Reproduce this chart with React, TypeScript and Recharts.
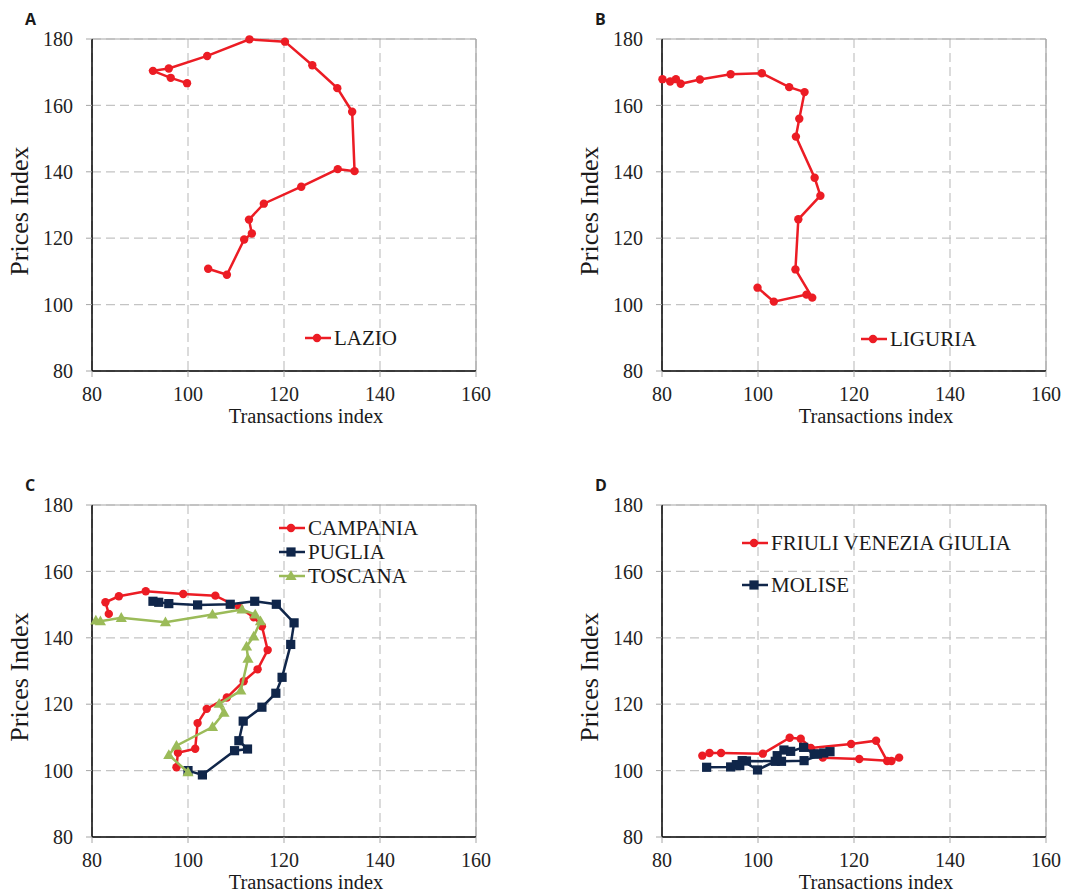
import React from 'react';
import {
  ScatterChart,
  Scatter,
  XAxis,
  YAxis,
  CartesianGrid,
  ReferenceLine,
  Legend,
  Label,
} from 'recharts';

const FONT = '"Liberation Serif", "Times New Roman", serif';

const xTicks = [80, 100, 120, 140, 160];
const yTicks = [80, 100, 120, 140, 160, 180];

// Panel A
const lazioTransactions = [104.2, 108.1, 111.7, 113.3, 112.7, 115.8, 123.6, 131.2, 134.7, 134.2, 131.1, 125.9, 120.2, 112.8, 104.0, 96.0, 92.7, 96.4, 99.8];
const lazioPrices = [110.8, 109.0, 119.6, 121.4, 125.6, 130.4, 135.5, 140.8, 140.2, 158.1, 165.2, 172.1, 179.2, 179.9, 174.9, 171.1, 170.4, 168.3, 166.7];

// Panel B
const liguriaTransactions = [99.9, 103.3, 110.1, 111.3, 107.8, 108.4, 113.0, 111.8, 107.9, 108.6, 109.7, 106.5, 100.8, 94.3, 87.9, 83.9, 82.9, 81.7, 80.1];
const liguriaPrices = [105.1, 100.9, 103.0, 102.1, 110.6, 125.7, 132.8, 138.2, 150.6, 156.0, 164.0, 165.5, 169.7, 169.4, 167.8, 166.5, 167.9, 167.2, 167.9];

// Panel C
const campaniaTransactions = [97.6, 97.9, 101.5, 102.0, 103.9, 108.1, 111.6, 114.5, 116.6, 115.4, 113.7, 110.7, 105.7, 99.0, 91.2, 85.6, 82.8, 83.5];
const campaniaPrices = [101.0, 105.4, 106.6, 114.3, 118.6, 122.0, 126.9, 130.5, 136.3, 143.5, 146.2, 149.1, 152.7, 153.2, 154.0, 152.5, 150.7, 147.2];

const pugliaTransactions = [100.0, 103.0, 109.7, 112.4, 110.6, 111.5, 115.4, 118.3, 119.6, 121.4, 122.1, 118.4, 113.9, 108.8, 102.0, 96.0, 93.9, 92.7];
const pugliaPrices = [100.0, 98.7, 106.0, 106.5, 109.0, 114.9, 119.1, 123.3, 128.1, 138.0, 144.5, 150.1, 151.0, 150.1, 149.9, 150.3, 150.7, 151.0];

const toscanaTransactions = [100.0, 96.0, 97.6, 105.1, 107.5, 106.5, 111.0, 112.5, 112.2, 113.7, 115.1, 114.0, 111.25, 105.1, 95.3, 86.1, 81.75, 80.8];
const toscanaPrices = [99.5, 104.7, 107.5, 113.1, 117.4, 120.1, 124.1, 133.7, 137.4, 140.4, 145.0, 147.0, 148.5, 147.0, 144.7, 146.0, 145.0, 145.2];

// Panel D
const friuliTransactions = [88.4, 89.9, 92.3, 101.0, 106.6, 108.9, 113.5, 121.1, 127.8, 129.4, 126.9, 124.6, 119.4, 111.0];
const friuliPrices = [104.5, 105.3, 105.3, 105.1, 109.9, 109.6, 103.9, 103.5, 102.9, 103.9, 102.9, 109.0, 108.0, 106.8];

const moliseTransactions = [89.3, 94.3, 95.5, 96.7, 99.9, 103.6, 104.0, 105.4, 106.8, 109.5, 111.7, 112.4, 113.7, 115.0, 109.6, 104.9, 97.6, 96.2];
const molisePrices = [101.0, 101.1, 101.8, 103.0, 100.2, 102.8, 104.5, 106.2, 105.8, 107.0, 105.0, 105.0, 105.3, 105.7, 103.0, 102.8, 102.9, 101.5];

const RED = '#ec1c24';
const NAVY = '#10264a';
const GREEN = '#9bbb59';

type Pt = { x: number; y: number };
type MarkerKind = 'circle' | 'square' | 'triangle';
type SeriesDef = { name: string; color: string; marker: MarkerKind; data: Pt[] };

const zip = (xs: number[], ys: number[]): Pt[] => xs.map((x, i) => ({ x, y: ys[i] }));

function markerElement(kind: MarkerKind, color: string, cx: number, cy: number) {
  if (kind === 'circle') return <circle cx={cx} cy={cy} r={4.2} fill={color} />;
  if (kind === 'square') return <rect x={cx - 4.6} y={cy - 4.6} width={9.2} height={9.2} fill={color} />;
  return (
    <polygon
      points={`${cx},${cy - 5.8} ${cx + 5.6},${cy + 4} ${cx - 5.6},${cy + 4}`}
      fill={color}
    />
  );
}

const W = 500;
const H = 446;

type PanelProps = {
  letter: string;
  left: number;
  top: number;
  series: SeriesDef[];
  legendLeft: number;
  legendTop: number;
  legendRowGap: number;
};

function LegendBox({ series, gap }: { series: SeriesDef[]; gap: number }) {
  return (
    <div style={{ display: 'flex', flexDirection: 'column', rowGap: gap }}>
      {series.map((s) => (
        <div key={s.name} style={{ display: 'flex', alignItems: 'center', height: 24 }}>
          <svg width={28} height={16} style={{ display: 'block' }}>
            <line x1={0} y1={8} x2={26} y2={8} stroke={s.color} strokeWidth={2.5} />
            {markerElement(s.marker, s.color, 12, 8)}
          </svg>
          <span
            style={{
              fontFamily: FONT,
              fontSize: 21,
              lineHeight: '24px',
              color: '#1a1a1a',
              marginLeft: 1,
              whiteSpace: 'nowrap',
            }}
          >
            {s.name}
          </span>
        </div>
      ))}
    </div>
  );
}

function Panel({ letter, left, top, series, legendLeft, legendTop, legendRowGap }: PanelProps) {
  return (
    <div style={{ position: 'absolute', left, top, width: W, height: H }}>
      <div
        style={{
          position: 'absolute',
          left: 25,
          top: 11,
          fontFamily: '"Open Sans", "DejaVu Sans", sans-serif',
          fontWeight: 700,
          fontSize: 16,
          lineHeight: '16px',
          color: '#1a1a1a',
          zIndex: 2,
        }}
      >
        {letter}
      </div>
      <ScatterChart width={W} height={H} margin={{ top: 39, right: 24, bottom: 0, left: 0 }}>
        <CartesianGrid stroke="#c4c4c4" strokeDasharray="9 5" strokeWidth={1.2} />
        <XAxis
          type="number"
          dataKey="x"
          domain={[80, 160]}
          ticks={xTicks}
          height={75}
          tickSize={6}
          tickMargin={10}
          tickLine={{ stroke: '#a6a6a6' }}
          axisLine={{ stroke: '#000', strokeWidth: 1.5 }}
          tick={{ fill: '#222', fontSize: 20, fontFamily: FONT }}
          interval={0}
        >
          <Label
            content={(p: any) => {
              const vb = p.viewBox || {};
              return (
                <text
                  x={vb.x + vb.width / 2 + 22}
                  y={vb.y + 52}
                  textAnchor="middle"
                  fill="#1a1a1a"
                  fontSize={20.5}
                  fontFamily={FONT}
                >
                  Transactions index
                </text>
              );
            }}
          />
        </XAxis>
        <YAxis
          type="number"
          dataKey="y"
          domain={[80, 180]}
          ticks={yTicks}
          width={92}
          tickSize={6}
          tickMargin={13}
          tickLine={{ stroke: '#a6a6a6' }}
          axisLine={{ stroke: '#000', strokeWidth: 1.5 }}
          tick={{ fill: '#222', fontSize: 20, fontFamily: FONT }}
          interval={0}
        >
          <Label
            content={(p: any) => {
              const vb = p.viewBox || {};
              const cx = 28;
              const cy = vb.y + vb.height / 2 + 6;
              return (
                <text
                  x={cx}
                  y={cy}
                  transform={`rotate(-90, ${cx}, ${cy})`}
                  textAnchor="middle"
                  fill="#1a1a1a"
                  fontSize={26}
                  fontFamily={FONT}
                >
                  Prices Index
                </text>
              );
            }}
          />
        </YAxis>
        <ReferenceLine y={180} stroke="#a6a6a6" strokeWidth={1.2} />
        <ReferenceLine x={160} stroke="#a6a6a6" strokeWidth={1.2} />
        {series.map((s) => (
          <Scatter
            key={s.name}
            name={s.name}
            data={s.data}
            fill={s.color}
            line={{ stroke: s.color, strokeWidth: 2.5 }}
            lineType="joint"
            isAnimationActive={false}
            shape={(props: any) => markerElement(s.marker, s.color, props.cx, props.cy)}
          />
        ))}
        <Legend
          layout="vertical"
          align="center"
          verticalAlign="middle"
          wrapperStyle={{ left: legendLeft, top: legendTop, width: 'auto', height: 'auto' }}
          content={() => <LegendBox series={series} gap={legendRowGap} />}
        />
      </ScatterChart>
    </div>
  );
}

const panelA: SeriesDef[] = [
  { name: 'LAZIO', color: RED, marker: 'circle', data: zip(lazioTransactions, lazioPrices) },
];
const panelB: SeriesDef[] = [
  { name: 'LIGURIA', color: RED, marker: 'circle', data: zip(liguriaTransactions, liguriaPrices) },
];
const panelC: SeriesDef[] = [
  { name: 'CAMPANIA', color: RED, marker: 'circle', data: zip(campaniaTransactions, campaniaPrices) },
  { name: 'PUGLIA', color: NAVY, marker: 'square', data: zip(pugliaTransactions, pugliaPrices) },
  { name: 'TOSCANA', color: GREEN, marker: 'triangle', data: zip(toscanaTransactions, toscanaPrices) },
];
const panelD: SeriesDef[] = [
  { name: 'FRIULI VENEZIA GIULIA', color: RED, marker: 'circle', data: zip(friuliTransactions, friuliPrices) },
  { name: 'MOLISE', color: NAVY, marker: 'square', data: zip(moliseTransactions, molisePrices) },
];

export default function App() {
  return (
    <div style={{ position: 'absolute', left: 0, top: 0, width: 1071, height: 892, background: '#fff' }}>
      <Panel letter="A" left={0} top={0} series={panelA} legendLeft={305} legendTop={326} legendRowGap={0} />
      <Panel letter="B" left={570} top={0} series={panelB} legendLeft={291} legendTop={327} legendRowGap={0} />
      <Panel letter="C" left={0} top={466} series={panelC} legendLeft={279} legendTop={50} legendRowGap={0} />
      <Panel letter="D" left={570} top={466} series={panelD} legendLeft={172} legendTop={65} legendRowGap={18} />
    </div>
  );
}
